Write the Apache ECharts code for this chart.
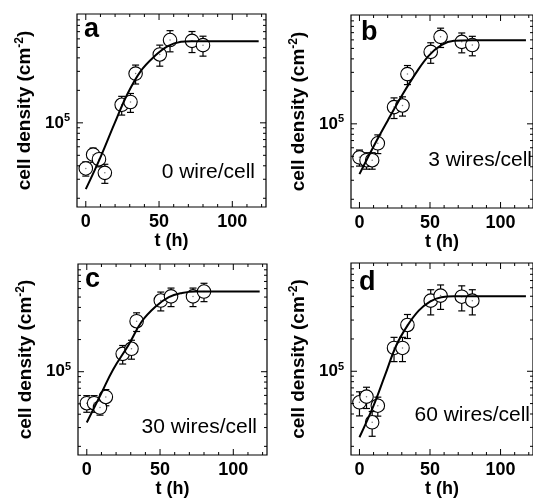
<!DOCTYPE html>
<html>
<head>
<meta charset="utf-8">
<script src="https://cdn.jsdelivr.net/npm/echarts@6/dist/echarts.min.js"></script>
<style>
  html, body { margin: 0; padding: 0; background: #fff; }
  #main { width: 533px; height: 499px; }
</style>
</head>
<body>
<div id="main"></div>
<script>
// sampling times (h), same for all four panels
const tHours = [0, 5, 9, 13, 24.5, 30.5, 34, 50.5, 57.5, 72.5, 80]

// cell density (cm^-2) and error
const densA = [3.78e4, 5.07e4, 4.6e4, 3.44e4, 1.47e5, 1.56e5, 2.86e5, 4.3e5, 5.85e5, 5.75e5, 5.25e5]
const errA = [5.7e3, 7.6e3, 6.9e3, 6.9e3, 2.9e4, 3.1e4, 5.7e4, 9.5e4, 1.3e5, 1.27e5, 1.1e5]
const densB = [4.89e4, 4.6e4, 4.6e4, 6.6e4, 1.43e5, 1.48e5, 2.89e5, 4.64e5, 6.4e5, 5.75e5, 5.37e5]
const errB = [8.3e3, 8e3, 8e3, 1.3e4, 3.1e4, 3e4, 5.8e4, 1.0e5, 1.3e5, 1.2e5, 1.1e5]
const densC = [5.07e4, 5.07e4, 4.62e4, 5.8e4, 1.47e5, 1.64e5, 2.97e5, 4.64e5, 5.07e5, 5.07e5, 5.63e5]
const errC = [9e3, 9e3, 7e3, 1.0e4, 2.9e4, 3.3e4, 5.9e4, 9.3e4, 1.0e5, 1.0e5, 1.1e5]
const densD = [5.14e4, 5.8e4, 3.35e4, 4.78e4, 1.65e5, 1.65e5, 2.7e5, 4.55e5, 5.07e5, 4.95e5, 4.55e5]
const errD = [1.3e4, 1.3e4, 8.7e3, 9.6e3, 4.2e4, 4.2e4, 6.8e4, 1.2e5, 1.3e5, 1.3e5, 1.2e5]

// fitted growth curves, sampled from the figure
const fitTA = [0, 10, 19.5, 28.5, 37.5, 47, 56, 65, 72, 118]
const fitA = [2.43e4, 4.79e4, 9.77e4, 1.86e5, 3.02e5, 4.15e5, 5.14e5, 5.64e5, 5.71e5, 5.71e5]
const fitTB = [0, 10, 20, 30, 40, 49, 58, 67, 80, 118]
const fitB = [3.42e4, 6.17e4, 1.07e5, 1.82e5, 2.95e5, 4.27e5, 5.37e5, 5.89e5, 5.96e5, 5.96e5]
const fitTC = [0, 10, 18, 28.5, 37.5, 47, 56, 65, 74, 118]
const fitC = [3.35e4, 6.31e4, 1.05e5, 1.78e5, 2.95e5, 4.08e5, 5.0e5, 5.46e5, 5.64e5, 5.64e5]
const fitTD = [0, 10, 18, 26, 34, 42, 50, 58, 67, 118]
const fitD = [2.43e4, 4.79e4, 9.1e4, 1.73e5, 2.66e5, 3.67e5, 4.46e5, 4.9e5, 5.0e5, 5.0e5]

// ticks
const xLabels = [0, 50, 100]
const xTicksMajor = [0, 50, 100]
const xTicksMinor = [10, 20, 30, 40, 60, 70, 80, 90, 110, 120]
const yTicksMajor = [1e5]
const yTicksMinor = [2e4, 3e4, 4e4, 5e4, 6e4, 7e4, 8e4, 9e4, 2e5, 3e5, 4e5, 5e5, 6e5, 7e5, 8e5, 9e5]

const panelLetters = ['a', 'b', 'c', 'd']
const panelNotes = ['0 wire/cell', '3 wires/cell', '30 wires/cell', '60 wires/cell']

const FONT = '"Liberation Sans", Arial, Helvetica, sans-serif'

const panels = [
    { dens: densA, err: errA, fitT: fitTA, fit: fitA, left: 77, top: 14, letter: [84, 43], note: [255, 183] },
    { dens: densB, err: errB, fitT: fitTB, fit: fitB, left: 351, top: 15, letter: [361, 46], note: [532, 171] },
    { dens: densC, err: errC, fitT: fitTC, fit: fitC, left: 78, top: 264, letter: [85, 293], note: [257, 438] },
    { dens: densD, err: errD, fitT: fitTD, fit: fitD, left: 351, top: 263, letter: [359, 296], note: [530, 426] }
]

const tickItem = (params, api) => {
    const cs = params.coordSys
    const kind = api.value(2)
    const len = kind % 2 ? 6 : 3
    const style = { stroke: '#000', lineWidth: 1 }
    if (kind < 2) {
        const x = api.coord([api.value(0), 1e5])[0]
        return {
            type: 'group',
            children: [
                { type: 'line', shape: { x1: x, y1: cs.y + cs.height, x2: x, y2: cs.y + cs.height - len }, style },
                { type: 'line', shape: { x1: x, y1: cs.y, x2: x, y2: cs.y + len }, style }
            ]
        }
    }
    const y = api.coord([0, api.value(1)])[1]
    return {
        type: 'group',
        children: [
            { type: 'line', shape: { x1: cs.x, y1: y, x2: cs.x + len, y2: y }, style },
            { type: 'line', shape: { x1: cs.x + cs.width, y1: y, x2: cs.x + cs.width - len, y2: y }, style }
        ]
    }
}

const errItem = (params, api) => {
    const t = api.value(0)
    const v = api.value(1)
    const e = api.value(2)
    const hi = api.coord([t, v + e])
    const lo = api.coord([t, v - e])
    const w = 3.5
    const style = { stroke: '#000', lineWidth: 1.2 }
    return {
        type: 'group',
        children: [
            { type: 'line', shape: { x1: hi[0], y1: hi[1], x2: lo[0], y2: lo[1] }, style },
            { type: 'line', shape: { x1: hi[0] - w, y1: hi[1], x2: hi[0] + w, y2: hi[1] }, style },
            { type: 'line', shape: { x1: lo[0] - w, y1: lo[1], x2: lo[0] + w, y2: lo[1] }, style }
        ]
    }
}

const tickData = [
    ...xTicksMinor.map(v => [v, 1e5, 0]),
    ...xTicksMajor.map(v => [v, 1e5, 1]),
    ...yTicksMinor.map(v => [0, v, 2]),
    ...yTicksMajor.map(v => [0, v, 3])
]

let grid = []
let xAxis = []
let yAxis = []
let series = []
let graphic = []

panels.forEach((p, i) => {
    grid.push({
        left: p.left, top: p.top, width: 189, height: 193,
        show: true, borderColor: '#000', borderWidth: 1.2, backgroundColor: 'transparent'
    })
    xAxis.push({
        type: 'value', gridIndex: i, min: -6, max: 123,
        axisLine: { show: false }, axisTick: { show: false }, splitLine: { show: false },
        axisLabel: {
            customValues: xLabels, margin: 6,
            fontFamily: FONT, fontSize: 18, fontWeight: 'bold', color: '#000'
        },
        name: 't (h)', nameLocation: 'middle', nameGap: 25,
        nameTextStyle: { fontFamily: FONT, fontSize: 18, fontWeight: 'bold', color: '#000' }
    })
    yAxis.push({
        type: 'log', logBase: 10, gridIndex: i, min: 1.66e4, max: 1.02e6,
        axisLine: { show: false }, axisTick: { show: false }, splitLine: { show: false },
        axisLabel: {
            margin: 7,
            formatter: v => Math.abs(Math.log10(v) - 5) < 1e-6 ? '10{sup|5}' : '',
            fontFamily: FONT, fontSize: 17, fontWeight: 'bold', color: '#000',
            rich: { sup: { fontFamily: FONT, fontSize: 11, fontWeight: 'bold', color: '#000', verticalAlign: 'top', padding: [0, 0, 9, 0] } }
        },
        name: 'cell density (cm{sup|-2})', nameLocation: 'middle', nameGap: 42,
        nameTextStyle: {
            fontFamily: FONT, fontSize: 19, fontWeight: 'bold', color: '#000',
            rich: { sup: { fontFamily: FONT, fontSize: 12, fontWeight: 'bold', color: '#000', padding: [0, 0, 9, 0] } }
        }
    })
    series.push({
        type: 'custom', xAxisIndex: i, yAxisIndex: i, z: 1, silent: true,
        renderItem: errItem,
        data: tHours.map((t, k) => [t, p.dens[k], p.err[k]])
    })
    series.push({
        type: 'scatter', xAxisIndex: i, yAxisIndex: i, z: 2, silent: true,
        symbol: 'circle', symbolSize: 13.5,
        itemStyle: { color: '#fff', borderColor: '#000', borderWidth: 1.1, opacity: 1 },
        data: tHours.map((t, k) => [t, p.dens[k]])
    })
    series.push({
        type: 'scatter', xAxisIndex: i, yAxisIndex: i, z: 3, silent: true,
        symbol: 'circle', symbolSize: 1.5,
        itemStyle: { color: '#555' },
        data: tHours.map((t, k) => [t, p.dens[k]])
    })
    series.push({
        type: 'line', xAxisIndex: i, yAxisIndex: i, z: 4, silent: true,
        smooth: 0.4, showSymbol: false,
        lineStyle: { color: '#000', width: 2 },
        data: p.fitT.map((t, k) => [t, p.fit[k]])
    })
    series.push({
        type: 'custom', xAxisIndex: i, yAxisIndex: i, z: 5, silent: true,
        renderItem: tickItem,
        data: tickData
    })
    graphic.push({
        type: 'text', x: p.letter[0], y: p.letter[1],
        style: { text: panelLetters[i], font: `bold 27px ${FONT}`, fill: '#000', textAlign: 'left', textVerticalAlign: 'bottom' }
    })
    graphic.push({
        type: 'text', x: p.note[0], y: p.note[1],
        style: { text: panelNotes[i], font: `21px ${FONT}`, fill: '#000', textAlign: 'right', textVerticalAlign: 'bottom' }
    })
})

const chart = echarts.init(document.getElementById('main'), null, { renderer: 'canvas' })
chart.setOption({
    animation: false,
    backgroundColor: '#fff',
    grid, xAxis, yAxis, series, graphic
})
</script>
</body>
</html>
